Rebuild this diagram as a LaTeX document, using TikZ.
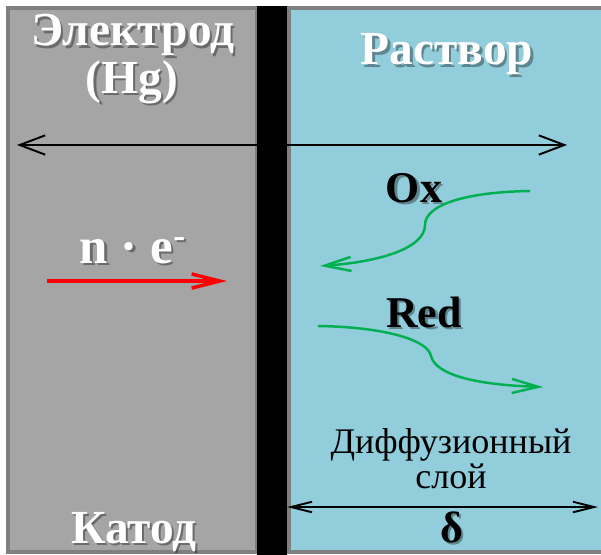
\documentclass[tikz,border=0pt]{standalone}
\usepackage{fontspec}
\setmainfont{Liberation Serif}
\usetikzlibrary{arrows.meta}

\definecolor{electrode}{HTML}{A5A5A5}
\definecolor{solution}{HTML}{92CDDC}
\definecolor{frame}{HTML}{7F7F7F}
\definecolor{flow}{HTML}{00B050}

% text with a soft drop shadow: style, name, position, text
\newcommand{\shadowed}[4]{%
  \node[#1, text=black, opacity=0.35, xshift=1.3pt, yshift=-1.3pt] at (#3) {#4};
  \node[#1] (#2) at (#3) {#4};}

\begin{document}
\begin{tikzpicture}[x=0.02cm, y=-0.02cm, thick,
    title/.style={text=white, font=\bfseries\fontsize{27}{32}\selectfont, anchor=base, inner sep=0pt},
    species/.style={text=black, font=\bfseries\fontsize{25}{30}\selectfont, anchor=base, inner sep=0pt},
    note/.style={font=\fontsize{20.5}{24}\selectfont, anchor=base, inner sep=0pt},
    barb/.style={line width=1.1pt, {Straight Barb[length=14.5pt,width=11pt]}-{Straight Barb[length=14.5pt,width=11pt]}},
    path/.style={flow, line width=1.4pt, -{Straight Barb[length=15pt,width=8pt]}}]
    \clip (0,0) rectangle (601,554);
    \fill[white] (0,0) rectangle (601,554);

    % electrode, interface and solution
    \draw[fill=electrode, draw=frame, line width=2.3pt] (8,8) rectangle (257,552);
    \draw[fill=solution, draw=frame, line width=2.3pt] (289,8) rectangle (612,552);
    \fill[black] (257,6) rectangle (287,560);

    \coordinate (A) at (17,145);
    \coordinate (B) at (567,145);
    \draw[barb] (A) -- (B);

    \shadowed{title}{electrode}{133,46}{Электрод}
    \shadowed{title}{hg}{132,93}{(Hg)}
    \shadowed{title}{solution}{447,65}{Раствор}
    \shadowed{title}{cathode}{134,543}{Катод}
    \shadowed{title, font=\bfseries\fontsize{29}{34}\selectfont}{electrons}{133,263}{n · e\textsuperscript{-}}

    % electron flow
    \coordinate (E1) at (47,281);
    \coordinate (E2) at (227,281);
    \draw[red, line width=2pt, -{Straight Barb[length=16pt,width=8pt]}] (E1) -- (E2);

    % diffusion of Ox and Red
    \shadowed{species}{ox}{414,202}{Ox}
    \shadowed{species}{red}{424,327}{Red}
    \coordinate (O1) at (530,191);
    \coordinate (O2) at (425,225);
    \coordinate (O3) at (320,266);
    \draw[path] (O1) .. controls (465,192) and (425,205) .. (O2)
                     .. controls (425,248) and (380,262) .. (O3);
    \coordinate (R1) at (318,326);
    \coordinate (R2) at (431,356);
    \coordinate (R3) at (543,387);
    \draw[path] (R1) .. controls (385,327) and (428,340) .. (R2)
                     .. controls (436,376) and (480,385) .. (R3);

    % diffusion layer
    \node[note] (layer) at (451,453) {Диффузионный};
    \node[note] (layer2) at (451,488) {слой};
    \coordinate (D1) at (287,507);
    \coordinate (D2) at (598,507);
    \draw[line width=1.1pt, {Straight Barb[length=12pt,width=6pt]}-{Straight Barb[length=12pt,width=6pt]}] (D1) -- (D2);
    \shadowed{species}{delta}{452,542}{δ}
\end{tikzpicture}
\end{document}
